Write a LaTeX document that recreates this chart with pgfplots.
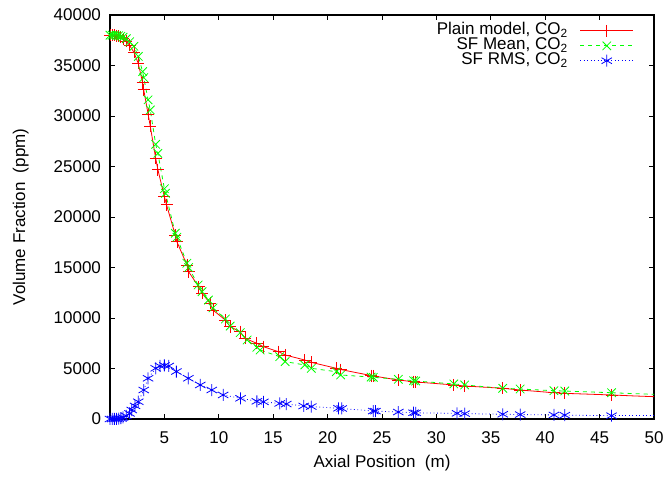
\documentclass[border=0pt]{standalone}
\usepackage{pgfplots}
\pgfplotsset{compat=1.18}
\usepackage{fontspec}
\setmainfont{Liberation Sans}
\definecolor{gred}{RGB}{255,0,0}
\definecolor{ggreen}{RGB}{0,255,0}
\definecolor{gblue}{RGB}{0,0,255}
\begin{document}
\begin{tikzpicture}
\begin{axis}[
  name=ax,
  scale only axis,
  width=408pt, height=303pt,
  xmin=0, xmax=50, ymin=0, ymax=40000,
  xtick={5,10,...,50},
  ytick={0,5000,...,40000},
  scaled y ticks=false,
  /pgf/number format/fixed,
  /pgf/number format/1000 sep={},
  /pgf/number format/assume math mode=true,
  tick label style={font=\fontsize{12.75pt}{14pt}\selectfont},
  xticklabel style={anchor=base, yshift=-18.2pt},
  yticklabel style={anchor=east, xshift=-3.25pt},
  every axis x label/.style={at={(rel axis cs:0.5,0)}, anchor=base, yshift=-36.75pt, font=\fontsize{12.75pt}{14pt}\selectfont},
  every axis y label/.style={at={(rel axis cs:0,0.5)}, xshift=-67pt, rotate=90, anchor=center, font=\fontsize{12.75pt}{14pt}\selectfont},
  major tick length=4pt,
  tick style={black, line width=0.5pt},
  axis line style={line width=0.8pt},
  xlabel={Axial Position\ \ (m)},
  ylabel={Volume Fraction\ \ (ppm)},
  legend plot pos=right,
  legend cell align=right,
  legend style={draw=none, fill=none, at={(rel axis cs:1,1)}, anchor=north east,
    xshift=-15pt, yshift=-5.5pt, inner sep=0pt,
    font=\fontsize{12.75pt}{14pt}\selectfont, row sep=-1.2pt, column sep=9pt,
    nodes={inner sep=0pt, text height=9pt, text depth=3.4pt}},
  legend image code/.code={\draw[mark repeat=2,mark phase=2] plot coordinates {(0cm,0cm)(0.7cm,0cm)(1.4cm,0cm)};},
]
\addplot[gred, line width=0.6pt, mark=+, mark size=4.5pt, mark options={solid}] coordinates {
(0,38000) (0.2,38000) (0.4,37990) (0.6,37960) (0.8,37900) (1.0,37800) (1.2,37650)
(1.5,37400) (1.8,37000) (2.2,36300) (2.6,35200) (3.0,33300) (3.1,32600) (3.5,30200)
(3.7,29000) (4.2,25800) (4.4,24700) (5.0,22000) (5.2,21200) (6.0,18200) (6.15,17550)
(7.07,15250) (7.23,14580) (8.15,13100) (8.46,12450) (9.2,11450) (9.46,10790)
(10.6,9800) (11.05,9140) (11.97,8640) (12.4,7990) (13.5,7490) (14.1,7160)
(15.5,6660) (16.1,6340) (17.9,5840) (18.5,5610) (20.8,5020) (21.2,4900)
(24.0,4300) (24.2,4260) (26.5,3860) (27.9,3690) (28.1,3670) (31.6,3370) (32.6,3270)
(36.1,3040) (37.7,2870) (40.8,2600) (41.8,2540) (46.1,2380)
};
\addlegendentry{Plain model, CO\textsubscript{2}}
\addplot[ggreen, line width=0.6pt, dashed, mark=x, mark size=4.5pt, mark options={solid}] coordinates {
(0,38000) (0.2,38000) (0.4,38000) (0.6,37990) (0.8,37950) (1.0,37900) (1.2,37800)
(1.5,37650) (1.8,37350) (2.2,36900) (2.6,35900) (3.0,34400) (3.1,33800) (3.5,31600)
(3.7,30600) (4.2,27200) (4.4,26300) (5.0,22800) (5.1,22350) (6.0,18390) (6.15,18000)
(7.07,15420) (7.23,15000) (8.1,13270) (8.46,12600) (9.05,11780) (9.46,11000)
(10.6,9900) (11.05,9200) (11.97,8550) (12.6,7820) (13.5,7100) (13.8,6830)
(15.6,6170) (16.1,5680) (17.9,5350) (18.5,5020) (20.8,4680) (21.2,4360)
(24.0,4150) (24.2,4130) (26.5,3930) (27.9,3790) (28.1,3760) (31.6,3470) (32.6,3370)
(36.1,3040) (37.7,2970) (40.8,2800) (41.8,2770) (46.1,2600)
};
\addlegendentry{SF Mean, CO\textsubscript{2}}
\addplot[gblue, line width=0.6pt, dotted, mark=asterisk, mark size=4.5pt, mark options={solid}] coordinates {
(0,0) (0.2,0) (0.4,10) (0.6,20) (0.8,40) (1.0,80) (1.2,150) (1.5,300) (1.8,550)
(2.0,890) (2.3,1300) (2.6,1710) (3.1,2870) (3.5,4030) (4.2,5020) (4.6,5250) (5.0,5300)
(5.4,5250) (6.1,4700) (7.2,4030) (8.3,3370) (9.35,2870) (10.4,2380) (12.0,2050)
(13.5,1750) (14.1,1700) (15.6,1540) (16.2,1480) (17.8,1290) (18.5,1230) (21,1060)
(21.3,1040) (24.2,790) (24.4,780) (26.5,690) (27.9,620) (28.1,610) (31.9,560)
(32.6,530) (36.1,470) (37.7,440) (40.8,400) (41.8,380) (46.1,330)
};
\addlegendentry{SF RMS, CO\textsubscript{2}}
\addplot[gred, line width=0.6pt, forget plot] coordinates {(46.1,2380) (48,2290) (50,2210)};
\addplot[ggreen, line width=0.6pt, dashed, forget plot] coordinates {(46.1,2600) (48,2520) (50,2440)};
\addplot[gblue, line width=0.6pt, dotted, forget plot] coordinates {(46.1,330) (50,330)};
\end{axis}
\pgfresetboundingbox
\path[use as bounding box] ([xshift=-82.5pt,yshift=-43.5pt]ax.south west) rectangle ([xshift=9.75pt,yshift=11.25pt]ax.north east);
\end{tikzpicture}
\end{document}
